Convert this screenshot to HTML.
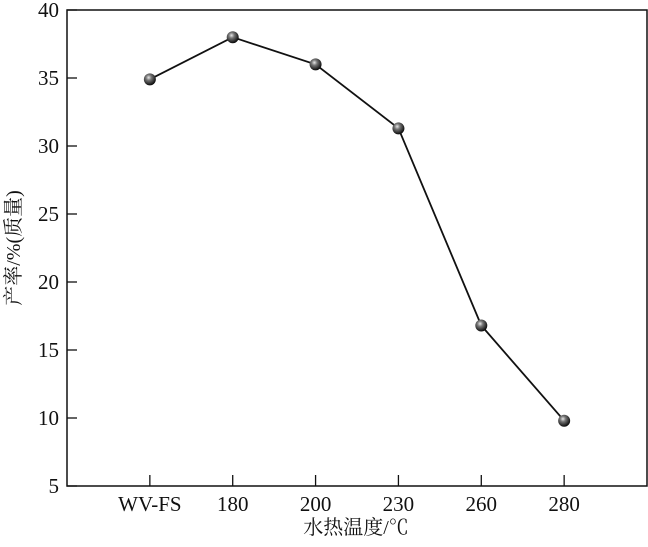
<!DOCTYPE html>
<html><head><meta charset="utf-8"><style>
html,body{margin:0;padding:0;background:#fff;}
svg text{font-family:"Liberation Serif","Noto Serif CJK SC",serif;fill:#111;}
</style></head><body>
<svg id="chart" width="648" height="542" viewBox="0 0 648 542" xmlns="http://www.w3.org/2000/svg">
<defs>
<radialGradient id="ball" cx="0.4" cy="0.35" r="0.65">
<stop offset="0" stop-color="#e8e8e8"/><stop offset="0.35" stop-color="#777"/><stop offset="1" stop-color="#0a0a0a"/>
</radialGradient>
</defs>
<g id="axes"></g>
<g id="series"></g>
<text x="356" y="534" text-anchor="middle" font-size="20">水热温度/℃</text>
<text transform="translate(20,248) rotate(-90)" text-anchor="middle" font-size="20">产率/%(质量)</text>
</svg>
<script>
const categories = ["WV-FS","180","200","230","260","280"];
const yieldValues = [34.9, 38.0, 36.0, 31.3, 16.8, 9.8];
const yTicks = [5,10,15,20,25,30,35,40];

const L=67,R=647,T=10,B=486;
const NS="http://www.w3.org/2000/svg";
function xs(i){return L+(i+1)*(R-L)/7;}
function ys(v){return B-(v-5)/35*(B-T);}
function mk(tag,attrs,parent){const e=document.createElementNS(NS,tag);for(const k in attrs)e.setAttribute(k,attrs[k]);parent.appendChild(e);return e;}
const ax=document.getElementById('axes'), se=document.getElementById('series');
const frame=mk('rect',{x:L,y:T,width:R-L,height:B-T,fill:'none',stroke:'#111','stroke-width':1.5},ax);


yTicks.forEach(v=>{
  const t=mk('line',{x1:L,x2:L+10,y1:ys(v),y2:ys(v),stroke:'#111','stroke-width':1.3},ax);
  
  
  const l=mk('text',{x:L-8,y:ys(v)+7,'text-anchor':'end','font-size':21},ax);
  l.textContent=v;
  
  
});
categories.forEach((c,i)=>{
  const t=mk('line',{x1:xs(i),x2:xs(i),y1:B,y2:B-11,stroke:'#111','stroke-width':1.3},ax);
  
  
  const l=mk('text',{x:xs(i),y:B+25,'text-anchor':'middle','font-size':21},ax);
  l.textContent=c;
  
  
});
const pts=yieldValues.map((v,i)=>xs(i)+','+ys(v)).join(' ');
const line=mk('polyline',{points:pts,fill:'none',stroke:'#111','stroke-width':1.8},se);


yieldValues.forEach((v,i)=>{
  const p=mk('circle',{cx:xs(i),cy:ys(v),r:6,fill:'url(#ball)'},se);
  
  
});
</script>
</body></html>
